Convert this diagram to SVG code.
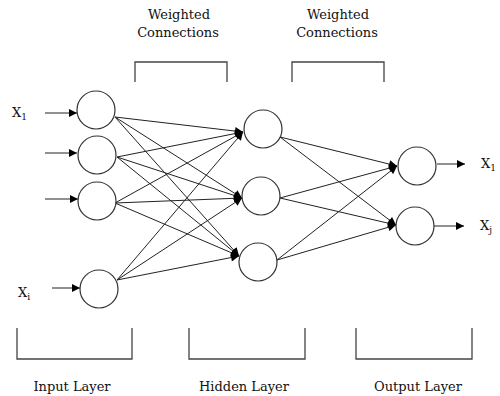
<svg xmlns="http://www.w3.org/2000/svg" width="500" height="396" viewBox="0 0 500 396">
<defs>
<marker id="ah" viewBox="0 0 10 10" refX="10" refY="5" markerWidth="9" markerHeight="8" markerUnits="userSpaceOnUse" orient="auto">
<path d="M0,0 L10,5 L0,10 Z" fill="#000"/>
</marker>
<style>
.n{fill:#fff;stroke:#333;stroke-width:1.2}
.c{stroke:#222;stroke-width:1;fill:none;marker-end:url(#ah)}
.b{stroke:#444;stroke-width:1.3;fill:none}
text{font-family:'DejaVu Serif',serif;font-size:13px;fill:#111}
.s{font-size:9px}
</style>
</defs>
<rect width="500" height="396" fill="#fff"/>
<g id="connectors">
<line class="c" x1="45" y1="113" x2="77" y2="113"/>
<line class="c" x1="45" y1="153" x2="77" y2="153"/>
<line class="c" x1="45" y1="199" x2="78" y2="199"/>
<line class="c" x1="52" y1="288" x2="80" y2="288"/>
<line class="c" x1="115" y1="117" x2="243" y2="132"/>
<line class="c" x1="115" y1="117" x2="242" y2="198"/>
<line class="c" x1="115" y1="117" x2="239" y2="256"/>
<line class="c" x1="117" y1="157" x2="243" y2="132"/>
<line class="c" x1="117" y1="157" x2="242" y2="198"/>
<line class="c" x1="117" y1="157" x2="239" y2="256"/>
<line class="c" x1="115" y1="203" x2="243" y2="132"/>
<line class="c" x1="115" y1="203" x2="242" y2="198"/>
<line class="c" x1="115" y1="203" x2="239" y2="256"/>
<line class="c" x1="117" y1="280" x2="243" y2="132"/>
<line class="c" x1="117" y1="280" x2="242" y2="198"/>
<line class="c" x1="117" y1="280" x2="239" y2="256"/>
<line class="c" x1="280" y1="137" x2="397" y2="166"/>
<line class="c" x1="280" y1="137" x2="396" y2="225"/>
<line class="c" x1="280" y1="198" x2="397" y2="166"/>
<line class="c" x1="280" y1="198" x2="396" y2="225"/>
<line class="c" x1="277" y1="260" x2="397" y2="166"/>
<line class="c" x1="277" y1="260" x2="396" y2="225"/>
<line class="c" x1="437" y1="164" x2="465" y2="164"/>
<line class="c" x1="434" y1="226" x2="464" y2="226"/>
</g>
<g id="in1"><circle class="n" cx="96" cy="110" r="19"/></g>
<g id="in2"><circle class="n" cx="97" cy="155" r="19"/></g>
<g id="in3"><circle class="n" cx="97" cy="201" r="19"/></g>
<g id="in4"><circle class="n" cx="99" cy="289" r="19"/></g>
<g id="h1"><circle class="n" cx="263" cy="129" r="19"/></g>
<g id="h2"><circle class="n" cx="261" cy="196" r="19"/></g>
<g id="h3"><circle class="n" cx="258" cy="262" r="19"/></g>
<g id="o1"><circle class="n" cx="417" cy="166" r="19"/></g>
<g id="o2"><circle class="n" cx="415" cy="226" r="19"/></g>
<g id="brackets">
<path class="b" d="M135,82 V62 H227 V82"/>
<path class="b" d="M292,82 V62 H384 V82"/>
<path class="b" d="M17,328 V359 H132 V328"/>
<path class="b" d="M189,328 V359 H305 V328"/>
<path class="b" d="M356,328 V359 H472 V328"/>
</g>
<g id="labels">
<text x="179" y="19" text-anchor="middle">Weighted</text>
<text x="178" y="37" text-anchor="middle">Connections</text>
<text x="338" y="19" text-anchor="middle">Weighted</text>
<text x="337" y="37" text-anchor="middle">Connections</text>
<text x="12" y="117" font-size="15">X<tspan class="s" dy="3">1</tspan></text>
<text x="18" y="297" font-size="15">X<tspan class="s" dy="3">i</tspan></text>
<text x="481" y="168" font-size="15">X<tspan class="s" dy="3">1</tspan></text>
<text x="480" y="230" font-size="15">X<tspan class="s" dy="3">j</tspan></text>
<text x="72" y="391" text-anchor="middle">Input Layer</text>
<text x="244" y="391" text-anchor="middle">Hidden Layer</text>
<text x="418" y="391" text-anchor="middle">Output Layer</text>
</g>
</svg>
